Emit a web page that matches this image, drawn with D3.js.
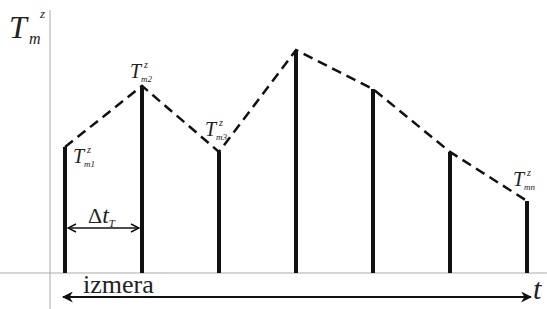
<!DOCTYPE html>
<html>
<head>
<meta charset="utf-8">
<script src="https://cdn.jsdelivr.net/npm/d3@7"></script>
<style>
  body { margin: 0; background: #fff; }
</style>
</head>
<body>
<script>
// measurement moments and the measured value at each of them
const moments = [1, 2, 3, 4, 5, 6, 7];
const values = [5.65, 8.39, 5.43, 10, 8.25, 5.43, 3.23];
// labels placed at selected measurements
const labelIdx = [0, 1, 2, 6];
const labelSubs = ["m1", "m2", "m3", "mn"];

const width = 547;
const height = 309;
const serif = '"Liberation Serif"';

const x = d3.scaleLinear().domain([1, 7]).range([65, 527]);
const y = d3.scaleLinear().domain([0, 10]).range([273, 50]);

const svg = d3.select("body").append("svg")
    .attr("width", width)
    .attr("height", height);

function txt(parent) {
    return parent.append("text")
        .style("font-family", serif)
        .attr("fill", "#222");
}

const defs = svg.append("defs");
defs.append("marker")
    .attr("id", "head")
    .attr("viewBox", "0 0 10 10")
    .attr("refX", 9).attr("refY", 5)
    .attr("markerWidth", 11).attr("markerHeight", 11)
    .attr("markerUnits", "userSpaceOnUse")
    .attr("orient", "auto-start-reverse")
    .append("path")
    .attr("d", "M0,0 L10,5 L0,10 L3,5 Z")
    .attr("fill", "#111");
defs.append("marker")
    .attr("id", "open")
    .attr("viewBox", "0 0 10 10")
    .attr("refX", 9).attr("refY", 5)
    .attr("markerWidth", 10).attr("markerHeight", 10)
    .attr("markerUnits", "userSpaceOnUse")
    .attr("orient", "auto-start-reverse")
    .append("path")
    .attr("d", "M1,1 L9,5 L1,9")
    .attr("fill", "none")
    .attr("stroke", "#111")
    .attr("stroke-width", 1.5);

// axes (thin gray lines)
svg.append("line")
    .attr("x1", 50).attr("x2", 50)
    .attr("y1", 10).attr("y2", height)
    .attr("stroke", "#aaa").attr("stroke-width", 1);
svg.append("line")
    .attr("x1", 0).attr("x2", width)
    .attr("y1", y(0)).attr("y2", y(0))
    .attr("stroke", "#aaa").attr("stroke-width", 1);

// dashed envelope
svg.append("path")
    .datum(moments.map((t, i) => [t, values[i]]))
    .attr("d", d3.line().x(d => x(d[0])).y(d => y(d[1])))
    .attr("fill", "none")
    .attr("stroke", "#111")
    .attr("stroke-width", 2.5)
    .attr("stroke-dasharray", "10,6");

// vertical bars
svg.append("g")
    .selectAll("line")
    .data(moments)
    .join("line")
    .attr("x1", d => x(d)).attr("x2", d => x(d))
    .attr("y1", y(0))
    .attr("y2", (d, i) => y(values[i]))
    .attr("stroke", "#111")
    .attr("stroke-width", 4);

// y axis label T_m^z
const yl = txt(svg).attr("font-style", "italic");
yl.append("tspan").attr("x", 9).attr("y", 38).attr("font-size", 32).text("T");
yl.append("tspan").attr("x", 29).attr("y", 44).attr("font-size", 16).text("m");
yl.append("tspan").attr("x", 40).attr("y", 18).attr("font-size", 13).text("z");

// point labels
const offs = [[8, 16], [-12, -8], [-14, -16], [-14, -15]];
labelIdx.forEach((k, j) => {
    const px = x(moments[k]) + offs[j][0];
    const py = y(values[k]) + offs[j][1];
    const g = txt(svg).attr("font-style", "italic");
    g.append("tspan").attr("x", px).attr("y", py).attr("font-size", 20).text("T");
    g.append("tspan").attr("x", px + 11).attr("y", py + 4).attr("font-size", 9).text(labelSubs[j]);
    g.append("tspan").attr("x", px + 14).attr("y", py - 10).attr("font-size", 10).text("z");
});

// Δt_T arrow
svg.append("line")
    .attr("x1", x(1) + 3).attr("x2", x(2) - 3)
    .attr("y1", 228).attr("y2", 228)
    .attr("stroke", "#111").attr("stroke-width", 1.5)
    .attr("marker-start", "url(#open)")
    .attr("marker-end", "url(#open)");
const dt = txt(svg);
dt.append("tspan").attr("x", 88).attr("y", 223).attr("font-size", 22).text("Δ");
dt.append("tspan").attr("font-style", "italic").attr("font-size", 24).text("t");
dt.append("tspan").attr("font-style", "italic").attr("font-size", 11).attr("dy", 4).text("T");

// izmera arrow
svg.append("line")
    .attr("x1", x(1) - 2).attr("x2", x(7) + 4)
    .attr("y1", 297).attr("y2", 297)
    .attr("stroke", "#111").attr("stroke-width", 2)
    .attr("marker-start", "url(#head)")
    .attr("marker-end", "url(#head)");
txt(svg)
    .attr("x", 83).attr("y", 293)
    .attr("font-size", 26)
    .text("izmera");
txt(svg)
    .attr("x", 533).attr("y", 299)
    .attr("font-size", 30)
    .attr("font-style", "italic")
    .text("t");
</script>
</body>
</html>
